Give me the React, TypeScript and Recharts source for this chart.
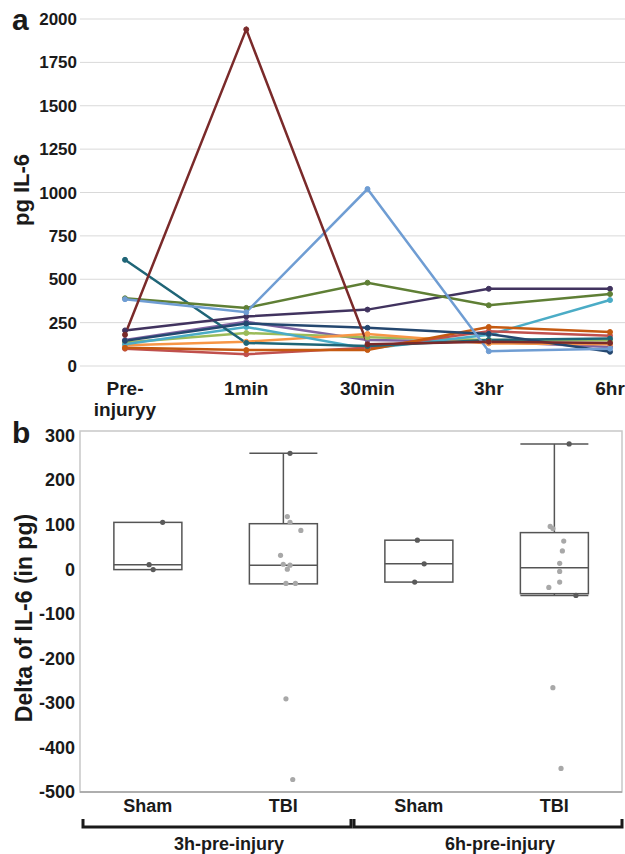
import React from 'react';
import {
  LineChart,
  Line,
  ComposedChart,
  Bar,
  Scatter,
  XAxis,
  YAxis,
  CartesianGrid,
  ReferenceArea,
} from 'recharts';

// ---- panel a: IL-6 time course, one line per animal ----
const timePoints = ['Pre-\ninjuryy', '1min', '30min', '3hr', '6hr'];
const il6Ticks = [0, 250, 500, 750, 1000, 1250, 1500, 1750, 2000];

const animalDarkRed = [180, 1940, 125, 140, 133];
const animalLightBlue = [385, 310, 1020, 85, 100];
const animalOlive = [390, 335, 480, 350, 415];
const animalDarkPurple = [205, 285, 325, 445, 445];
const animalDarkTeal = [612, 133, 115, 150, 158];
const animalNavy = [145, 245, 220, 185, 82];
const animalPurple = [150, 255, 150, 140, 110];
const animalCyan = [125, 225, 100, 180, 380];
const animalLightGreen = [135, 190, 165, 150, 148];
const animalOrange = [120, 140, 185, 130, 125];
const animalBurnt = [105, 92, 92, 225, 196];
const animalRed = [100, 68, 105, 200, 175];

const animals = [
  { key: 'purple', values: animalPurple, color: '#8064A2' },
  { key: 'lightGreen', values: animalLightGreen, color: '#9BBB59' },
  { key: 'orange', values: animalOrange, color: '#F79646' },
  { key: 'cyan', values: animalCyan, color: '#4BACC6' },
  { key: 'red', values: animalRed, color: '#C0504D' },
  { key: 'burnt', values: animalBurnt, color: '#C55A11' },
  { key: 'darkTeal', values: animalDarkTeal, color: '#1F6577' },
  { key: 'navy', values: animalNavy, color: '#24476F' },
  { key: 'darkPurple', values: animalDarkPurple, color: '#41335F' },
  { key: 'olive', values: animalOlive, color: '#5F7F35' },
  { key: 'lightBlue', values: animalLightBlue, color: '#6F9DD3' },
  { key: 'darkRed', values: animalDarkRed, color: '#7A2A2A' },
];

const timeData = timePoints.map((t, i) => {
  const row: Record<string, any> = { time: t };
  animals.forEach((a) => (row[a.key] = a.values[i]));
  return row;
});

// ---- panel b: delta IL-6 box plots ----
const armLabels = ['Sham', 'TBI', 'Sham', 'TBI'];
const cohortLabels = ['3h-pre-injury', '3h-pre-injury', '6h-pre-injury', '6h-pre-injury'];
const boxQ1 = [-1, -33, -29, -55];
const boxMedian = [10, 9, 12, 3];
const boxQ3 = [105, 102, 65, 82];
const whiskerLow = [-1, -33, -29, -59];
const whiskerHigh = [105, 260, 65, 281];
const deltaTicks = [-500, -400, -300, -200, -100, 0, 100, 200, 300];

const sham3hValues = [105, 10, -1];
const sham3hJitter = [0.61, 0.51, 0.54];
const tbi3hValues = [118, 105, 87, 31, 11, 9, 0, -32, -32, -291, -472];
const tbi3hJitter = [1.53, 1.55, 1.63, 1.48, 1.5, 1.55, 1.53, 1.52, 1.59, 1.52, 1.57];
const tbi3hDarkValues = [260];
const tbi3hDarkJitter = [1.55];
const sham6hValues = [65, 12, -29];
const sham6hJitter = [2.49, 2.54, 2.47];
const tbi6hValues = [96, 91, 63, 41, 13, -5, -29, -41, -266, -447];
const tbi6hJitter = [3.47, 3.49, 3.57, 3.56, 3.54, 3.54, 3.54, 3.46, 3.49, 3.55];
const tbi6hDarkValues = [281, -59];
const tbi6hDarkJitter = [3.61, 3.66];

const boxData = armLabels.map((arm, i) => ({
  key: `${cohortLabels[i]}|${arm}`,
  arm,
  cohort: cohortLabels[i],
  box: [boxQ1[i], boxQ3[i]],
  q1: boxQ1[i],
  q3: boxQ3[i],
  median: boxMedian[i],
  lo: whiskerLow[i],
  hi: whiskerHigh[i],
}));

const toPoints = (xs: number[], ys: number[]) => ys.map((y, i) => ({ x: xs[i], y }));
const lightPoints = [
  ...toPoints(tbi3hJitter, tbi3hValues),
  ...toPoints(tbi6hJitter, tbi6hValues),
];
const darkPoints = [
  ...toPoints(sham3hJitter, sham3hValues),
  ...toPoints(tbi3hDarkJitter, tbi3hDarkValues),
  ...toPoints(sham6hJitter, sham6hValues),
  ...toPoints(tbi6hDarkJitter, tbi6hDarkValues),
];

const FONT = '"Liberation Sans", Arial, sans-serif';
const INK = '#1a1a1a';
const BOX_W = 625;
const PLOT_B_LEFT = 80;
const PLOT_B_RIGHT = 3;
const BAND = (BOX_W - PLOT_B_LEFT - PLOT_B_RIGHT) / armLabels.length;

const TimeTick = (props: any) => {
  const { x, y, payload } = props;
  const lines = String(payload.value).split('\n');
  return (
    <text x={x} y={y} textAnchor="middle" fontSize={19} fontWeight="bold" fill={INK} fontFamily={FONT}>
      {lines.map((l, i) => (
        <tspan key={i} x={x} dy={i === 0 ? 29 : 21}>
          {l}
        </tspan>
      ))}
    </text>
  );
};

const GroupTick = (props: any) => {
  const { x, y, payload, index } = props;
  const [cohort, arm] = String(payload.value).split('|');
  const showGroup = index % 2 === 1;
  const left = x - 1.5 * BAND + 3;
  const right = x + 0.5 * BAND;
  return (
    <g>
      <text x={x} y={y + 20} textAnchor="middle" fontSize={18} fontWeight="bold" fill={INK} fontFamily={FONT}>
        {arm}
      </text>
      {showGroup && (
        <g>
          <path
            d={`M${left},${y + 27} L${left},${y + 35} L${right},${y + 35} L${right},${y + 27}`}
            fill="none"
            stroke={INK}
            strokeWidth={3}
          />
          <text
            x={(left + right) / 2 + 12}
            y={y + 58}
            textAnchor="middle"
            fontSize={18}
            fontWeight="bold"
            fill={INK}
            fontFamily={FONT}
          >
            {cohort}
          </text>
        </g>
      )}
    </g>
  );
};

const BoxShape = (props: any) => {
  const { x, y, width, height, payload } = props;
  const top = Math.min(y, y + height);
  const h = Math.abs(height);
  const ppu = h / (payload.q3 - payload.q1);
  const yOf = (v: number) => top + (payload.q3 - v) * ppu;
  const cx = x + width / 2;
  const stroke = '#555';
  return (
    <g>
      {payload.hi > payload.q3 && (
        <g>
          <line x1={cx} x2={cx} y1={yOf(payload.q3)} y2={yOf(payload.hi)} stroke={stroke} strokeWidth={1.5} />
          <line x1={x} x2={x + width} y1={yOf(payload.hi)} y2={yOf(payload.hi)} stroke={stroke} strokeWidth={1.5} />
        </g>
      )}
      {payload.lo < payload.q1 && (
        <g>
          <line x1={cx} x2={cx} y1={yOf(payload.q1)} y2={yOf(payload.lo)} stroke={stroke} strokeWidth={1.5} />
          <line x1={x} x2={x + width} y1={yOf(payload.lo)} y2={yOf(payload.lo)} stroke={stroke} strokeWidth={1.5} />
        </g>
      )}
      <rect x={x} y={top} width={width} height={h} fill="none" stroke={stroke} strokeWidth={1.5} />
      <line x1={x} x2={x + width} y1={yOf(payload.median)} y2={yOf(payload.median)} stroke={stroke} strokeWidth={1.5} />
    </g>
  );
};

const Dot = (props: any) => <circle cx={props.cx} cy={props.cy} r={2.6} fill={props.fill} />;

const labelStyle: React.CSSProperties = {
  position: 'absolute',
  transform: 'translate(-50%, -50%) rotate(-90deg)',
  whiteSpace: 'nowrap',
  fontWeight: 'bold',
  color: INK,
  fontFamily: FONT,
};

export default function App() {
  return (
    <div
      style={{
        position: 'absolute',
        left: 0,
        top: 0,
        width: 625,
        height: 854,
        background: '#fff',
        fontFamily: FONT,
        overflow: 'hidden',
      }}
    >
      <div style={{ position: 'absolute', left: 0, top: 0 }}>
        <LineChart width={625} height={420} data={timeData} margin={{ top: 19, right: 0, left: 0, bottom: 0 }}>
          <CartesianGrid vertical={false} stroke="#d9d9d9" />
          <XAxis
            dataKey="time"
            padding={{ left: 45, right: 15 }}
            axisLine={false}
            tickLine={false}
            tickSize={0}
            tickMargin={0}
            height={54}
            interval={0}
            tick={<TimeTick />}
          />
          <YAxis
            width={80}
            domain={[0, 2000]}
            ticks={il6Ticks}
            axisLine={false}
            tickLine={false}
            tickSize={1}
            tickMargin={2}
            tick={{ fontSize: 17, fontWeight: 'bold', fill: INK, fontFamily: FONT }}
          />
          {animals.map((a) => (
            <Line
              key={a.key}
              dataKey={a.key}
              stroke={a.color}
              strokeWidth={2.5}
              dot={{ r: 2.5, fill: a.color, stroke: a.color, strokeWidth: 1 }}
              isAnimationActive={false}
            />
          ))}
        </LineChart>
      </div>
      <div style={{ position: 'absolute', left: 12, top: 30, transform: 'translateY(-80%)', fontSize: 30, fontWeight: 'bold', color: INK }}>
        a
      </div>
      <div style={{ ...labelStyle, left: 22, top: 190, fontSize: 22 }}>pg IL-6</div>

      <div style={{ position: 'absolute', left: 0, top: 420 }}>
        <ComposedChart
          width={625}
          height={434}
          data={boxData}
          barCategoryGap="25%"
          margin={{ top: 11, right: PLOT_B_RIGHT, left: 0, bottom: 0 }}
        >
          <ReferenceArea
            xAxisId="num"
            x1={0}
            x2={4}
            y1={-500}
            y2={310}
            fill="none"
            stroke="#c8c8c8"
            strokeWidth={1.5}
            ifOverflow="visible"
          />
          <XAxis
            xAxisId="cat"
            dataKey="key"
            axisLine={{ stroke: '#a0a0a0', strokeWidth: 1.5 }}
            tickLine={false}
            tickSize={0}
            tickMargin={0}
            height={62}
            interval={0}
            tick={<GroupTick />}
          />
          <XAxis xAxisId="num" type="number" dataKey="x" domain={[0, 4]} hide />
          <YAxis
            width={PLOT_B_LEFT}
            domain={[-500, 310]}
            ticks={deltaTicks}
            allowDataOverflow
            axisLine={false}
            tickLine={false}
            tickSize={3}
            tickMargin={2}
            tick={{ fontSize: 18, fontWeight: 'bold', fill: INK, fontFamily: FONT }}
          />
          <Bar xAxisId="cat" dataKey="box" shape={<BoxShape />} isAnimationActive={false} />
          <Scatter xAxisId="num" data={lightPoints} dataKey="y" fill="#a8a8a8" shape={<Dot />} isAnimationActive={false} />
          <Scatter xAxisId="num" data={darkPoints} dataKey="y" fill="#5a5a5a" shape={<Dot />} isAnimationActive={false} />
        </ComposedChart>
      </div>
      <div style={{ position: 'absolute', left: 12, top: 443, transform: 'translateY(-80%)', fontSize: 30, fontWeight: 'bold', color: INK }}>
        b
      </div>
      <div style={{ ...labelStyle, left: 24, top: 618, fontSize: 23 }}>Delta of IL-6 (in pg)</div>
    </div>
  );
}
